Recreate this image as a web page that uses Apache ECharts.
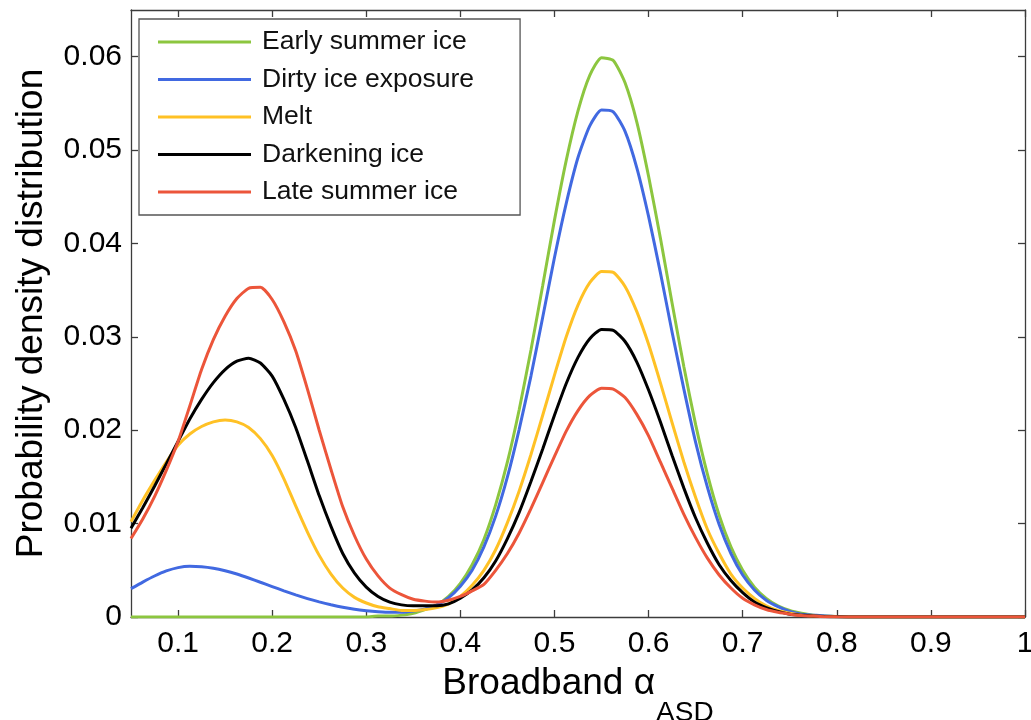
<!DOCTYPE html>
<html>
<head>
<meta charset="utf-8">
<script src="https://cdn.jsdelivr.net/npm/echarts@6/dist/echarts.min.js"></script>
<style>
  html, body { margin: 0; padding: 0; background: #fff; }
  #chart { width: 1031px; height: 720px; }
</style>
</head>
<body>
<div id="chart"></div>
<script>
// Broadband albedo sample points
const albedo = [
  0.05, 0.0625, 0.075, 0.0875, 0.1, 0.1125, 0.125, 0.1375, 0.15, 0.1625,
  0.175, 0.1875, 0.2, 0.2125, 0.225, 0.2375, 0.25, 0.2625, 0.275, 0.2875,
  0.3, 0.3125, 0.325, 0.3375, 0.35, 0.3625, 0.375, 0.3875, 0.4, 0.4125,
  0.425, 0.4375, 0.45, 0.4625, 0.475, 0.4875, 0.5, 0.5125, 0.525, 0.5375,
  0.55, 0.5625, 0.575, 0.5875, 0.6, 0.6125, 0.625, 0.6375, 0.65, 0.6625,
  0.675, 0.6875, 0.7, 0.7125, 0.725, 0.7375, 0.75, 0.7625, 0.775, 0.7875,
  0.8, 0.825, 0.85, 0.875, 0.9, 0.925, 0.95, 0.975, 1.0
];

// Probability density per surface class
const earlySummerIce = [
  0, 0, 0, 0, 0, 0, 0, 0, 0, 0,
  0, 0, 0, 0, 0, 0, 0, 0, 0, 0,
  0, 0.0001, 0.0001, 0.0002, 0.0004, 0.0008, 0.0013, 0.0022, 0.0036, 0.0056,
  0.0083, 0.0120, 0.0166, 0.0222, 0.0286, 0.0355, 0.0425, 0.0489, 0.0542, 0.0580,
  0.0599, 0.0596, 0.0572, 0.0530, 0.0472, 0.0406, 0.0336, 0.0268, 0.0206, 0.0153,
  0.0109, 0.0075, 0.0050, 0.0032, 0.0020, 0.0012, 0.0007, 0.0004, 0.0002, 0.0001,
  0.00005, 0, 0, 0, 0, 0, 0, 0, 0
];
const dirtyIceExposure = [
  0.00304, 0.00374, 0.00439, 0.00493, 0.00529, 0.00543, 0.00538, 0.00522, 0.00495, 0.00460,
  0.00418, 0.00372, 0.00326, 0.00280, 0.00237, 0.00197, 0.00162, 0.00131, 0.00104, 0.00083,
  0.00068, 0.00057, 0.00050, 0.00050, 0.00063, 0.00085, 0.00128, 0.00207, 0.00330, 0.00500,
  0.0075, 0.0108, 0.0150, 0.0201, 0.0258, 0.0321, 0.0385, 0.0443, 0.0492, 0.0526,
  0.0543, 0.0541, 0.0520, 0.0481, 0.0429, 0.0369, 0.0305, 0.0244, 0.0187, 0.0139,
  0.0099, 0.0068, 0.0045, 0.0029, 0.0018, 0.0011, 0.0006, 0.0003, 0.0002, 0.0001,
  0.00004, 0, 0, 0, 0, 0, 0, 0, 0
];
const melt = [
  0.0102, 0.0125, 0.0146, 0.0166, 0.0184, 0.0196, 0.0204, 0.0209, 0.0211, 0.0209,
  0.0203, 0.0191, 0.0173, 0.0148, 0.0119, 0.0091, 0.0066, 0.0046, 0.0031, 0.0021,
  0.0015, 0.0011, 0.0009, 0.0007, 0.0007, 0.0008, 0.0010, 0.0014, 0.0022, 0.0034,
  0.0050, 0.0072, 0.0101, 0.0135, 0.0174, 0.0216, 0.0259, 0.0300, 0.0334, 0.0358,
  0.0370, 0.0369, 0.0354, 0.0327, 0.0292, 0.0251, 0.0208, 0.0166, 0.0128, 0.0094,
  0.0068, 0.0046, 0.0031, 0.0020, 0.0012, 0.0007, 0.0004, 0.0002, 0.0001, 0.00006,
  0.00003, 0, 0, 0, 0, 0, 0, 0, 0
];
const darkeningIce = [
  0.0095, 0.0117, 0.0140, 0.0164, 0.0188, 0.0212, 0.0233, 0.0251, 0.0265, 0.0274,
  0.0277, 0.0272, 0.0258, 0.0233, 0.0203, 0.0167, 0.0130, 0.0097, 0.0068, 0.0047,
  0.0032, 0.0022, 0.0016, 0.0013, 0.0012, 0.0012, 0.0012, 0.0014, 0.0020, 0.0029,
  0.0042, 0.0060, 0.0084, 0.0112, 0.0145, 0.0180, 0.0216, 0.0250, 0.0278, 0.0298,
  0.0308, 0.0307, 0.0295, 0.0273, 0.0243, 0.0209, 0.0173, 0.0138, 0.0106, 0.0079,
  0.0056, 0.0039, 0.0026, 0.0016, 0.0010, 0.0006, 0.0003, 0.0002, 0.0001, 0.00005,
  0.00003, 0, 0, 0, 0, 0, 0, 0, 0
];
const lateSummerIce = [
  0.0084, 0.0105, 0.0129, 0.0157, 0.0188, 0.0226, 0.0265, 0.0297, 0.0322, 0.0341,
  0.0352, 0.0353, 0.0340, 0.0316, 0.0285, 0.0244, 0.0200, 0.0158, 0.0118, 0.0087,
  0.0062, 0.0044, 0.0031, 0.0024, 0.0019, 0.0017, 0.0016, 0.0018, 0.0022, 0.0028,
  0.0035, 0.0050, 0.0068, 0.0090, 0.0116, 0.0144, 0.0172, 0.0199, 0.0221, 0.0237,
  0.0245, 0.0244, 0.0235, 0.0217, 0.0194, 0.0166, 0.0138, 0.0110, 0.0085, 0.0063,
  0.0045, 0.0031, 0.0020, 0.0013, 0.0008, 0.0005, 0.0003, 0.00015, 0.0001, 0.00004,
  0.00002, 0, 0, 0, 0, 0, 0, 0, 0
];

// Axis tick positions
const xTicks = [0.1, 0.2, 0.3, 0.4, 0.5, 0.6, 0.7, 0.8, 0.9, 1.0];
const yTicks = [0, 0.01, 0.02, 0.03, 0.04, 0.05, 0.06];

const seriesNames = ['Early summer ice', 'Dirty ice exposure', 'Melt', 'Darkening ice', 'Late summer ice'];
const seriesValues = [earlySummerIce, dirtyIceExposure, melt, darkeningIce, lateSummerIce];
const seriesColors = ['#8CC63F', '#4169E1', '#FFC125', '#000000', '#EC553A'];

const FONT = '"Liberation Sans", Arial, Helvetica, sans-serif';
const AXIS_COLOR = '#3c3c3c';

function frameAxis(ticks, labelOpts) {
  return {
    axisLine: { show: true, onZero: false, lineStyle: { color: AXIS_COLOR, width: 1.3 } },
    axisTick: { show: true, inside: true, length: 7, customValues: ticks, lineStyle: { color: AXIS_COLOR, width: 1.3 } },
    axisLabel: labelOpts ? Object.assign({ customValues: ticks }, labelOpts) : { show: false },
    splitLine: { show: false }
  };
}

const chart = echarts.init(document.getElementById('chart'), null, { renderer: 'canvas' });

chart.setOption({
  animation: false,
  backgroundColor: '#fff',
  textStyle: { fontFamily: FONT },
  grid: { left: 131, right: 6, top: 10, bottom: 103, outerBoundsMode: 'none' },
  legend: {
    orient: 'vertical',
    left: 139,
    top: 19,
    padding: [8, 46, 8, 19],
    icon: 'rect',
    itemWidth: 93,
    itemHeight: 3,
    itemGap: 7.5,
    backgroundColor: '#fff',
    borderColor: '#555',
    borderWidth: 1.3,
    borderRadius: 0,
    textStyle: { fontFamily: FONT, fontSize: 26.5, color: '#111', lineHeight: 30, padding: [0, 0, 0, 6] },
    data: seriesNames
  },
  xAxis: [
    Object.assign({
      type: 'value',
      min: 0.05,
      max: 1,
      name: '{a|Broadband α}{s|ASD}',
      nameLocation: 'middle',
      nameGap: 48,
      nameTextStyle: {
        rich: {
          a: { fontFamily: FONT, fontSize: 37, lineHeight: 37, color: '#000', verticalAlign: 'top' },
          s: { fontFamily: FONT, fontSize: 28, lineHeight: 28, color: '#000', verticalAlign: 'top', padding: [34, 0, 0, 1] }
        }
      }
    }, frameAxis(xTicks, {
      show: true,
      margin: 12,
      fontFamily: FONT,
      fontSize: 30,
      color: '#000',
      formatter: v => String(Math.round(v * 10) / 10)
    })),
    Object.assign({
      type: 'value',
      position: 'top',
      min: 0.05,
      max: 1
    }, frameAxis(xTicks, null))
  ],
  yAxis: [
    Object.assign({
      type: 'value',
      min: 0,
      max: 0.065,
      name: 'Probability density distribution',
      nameLocation: 'middle',
      nameGap: 81,
      nameTextStyle: { fontFamily: FONT, fontSize: 37, color: '#000' }
    }, frameAxis(yTicks, {
      show: true,
      margin: 9,
      fontFamily: FONT,
      fontSize: 30,
      color: '#000',
      formatter: v => (v === 0 ? '0' : v.toFixed(2))
    })),
    Object.assign({
      type: 'value',
      position: 'right',
      min: 0,
      max: 0.065
    }, frameAxis(yTicks, null))
  ],
  series: seriesNames.map((name, k) => ({
    name: name,
    type: 'line',
    xAxisIndex: 0,
    yAxisIndex: 0,
    symbol: 'none',
    smooth: 0.2,
    color: seriesColors[k],
    lineStyle: { width: 3, color: seriesColors[k] },
    data: albedo.map((x, i) => [x, seriesValues[k][i]])
  }))
});
</script>
</body>
</html>
